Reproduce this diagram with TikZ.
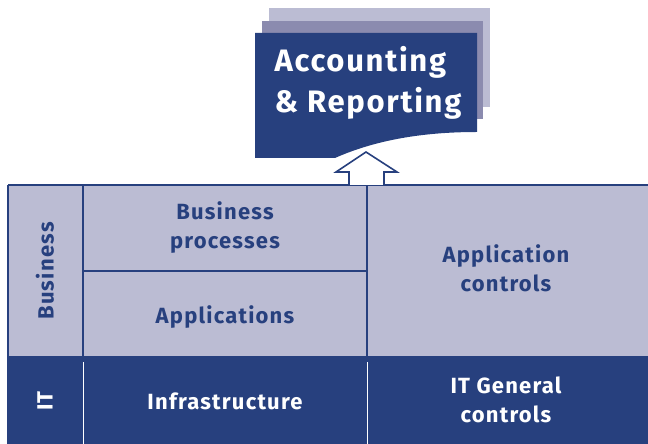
\documentclass[tikz,border=0pt]{standalone}
\usepackage{fontspec}
\setmainfont{Fira Sans}[LetterSpace=5.5]
\usepackage{tikz}
\usetikzlibrary{positioning}
\definecolor{navy}{HTML}{27407E}
\definecolor{lightblue}{HTML}{BBBCD3}
\definecolor{midblue}{HTML}{8B8BAF}

\begin{document}
\begin{tikzpicture}[x=10pt, y=10pt,
		lbl/.style={font=\fontsize{22}{29}\selectfont\bfseries, align=center, inner sep=0pt},
		lbldark/.style={lbl, text=navy},
		lbllight/.style={lbl, text=white}]
		\useasboundingbox (0,0) rectangle (64.8,44.4);
		
		\fill[lightblue] (26.9,33.7) rectangle (49.0,43.6);
		\fill[midblue] (26.2,32.5) rectangle (48.3,42.3);
		\fill[navy] (25.5,28.6) -- (33.5,28.6) .. controls (38.0,30.6) and (43.0,31.2) .. (47.7,31.2) --
			(47.7,41.1) -- (25.5,41.1) -- cycle;
		
		\fill[lightblue] (0.8,8.7) rectangle (64.8,25.9);
		\fill[navy] (0.7,0) rectangle (64.8,8.7);
		
		\draw[navy, line width=1.8pt] (0.8,25.9) -- (64.8,25.9); \draw[navy, line width=1.8pt] (0.8,8.7) -- (64.8,8.7);
		\draw[navy, line width=1.8pt] (0.8,8.7) -- (0.8,25.9); \draw[navy, line width=1.8pt] (8.3,8.7) -- (8.3,25.9);
		\draw[navy, line width=1.8pt] (36.7,8.7) -- (36.7,25.9); \draw[navy, line width=1.8pt] (8.3,17.3) -- (36.7,17.3);
		\draw[white, line width=0.8pt] (8.3,0) -- (8.3,8.2); \draw[white, line width=0.8pt] (36.7,0) -- (36.7,8.2);
		
		\draw[navy, line width=1.6pt, fill=white] (34.9,25.9) -- (34.9,27.2) -- (33.6,27.2) -- (36.6,29.2) --
			(39.7,27.2) -- (38.4,27.2) -- (38.4,25.9);
		
		\node[lbl, text=white, font=\fontsize{31}{41}\selectfont\bfseries, align=left] (title) at (36.8,36.1) {Accounting\\\& Reporting};
		\node[lbldark, rotate=90] (business) at (4.5,17.3) {Business};
		\node[lbllight, rotate=90] (it) at (4.5,4.3) {IT};
		\node[lbldark] (processes) at (22.5,21.6) {Business\\processes};
		\node[lbldark] (apps) at (22.5,12.7) {Applications};
		\node[lbllight] (infra) at (22.5,4.3) {Infrastructure};
		\node[lbldark] (appctl) at (50.6,17.6) {Application\\controls};
		\node[lbllight] (itgc) at (50.6,4.4) {IT General\\controls};
	\end{tikzpicture}
\end{document}
